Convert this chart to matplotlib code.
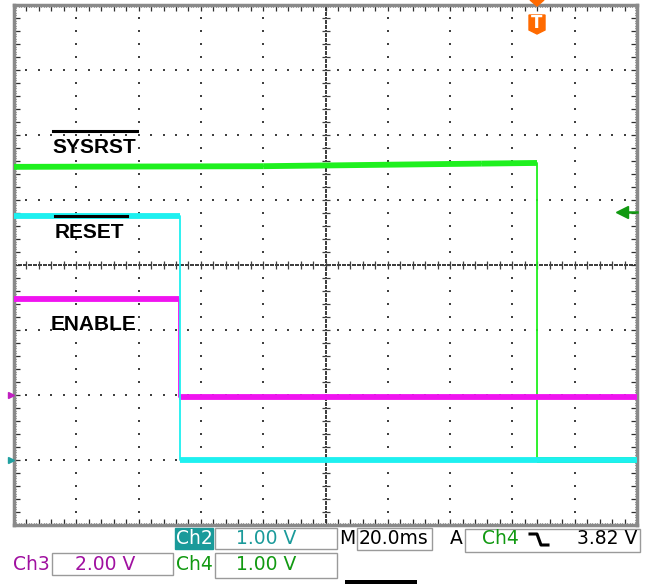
import numpy as np
import matplotlib.pyplot as plt
from matplotlib.patches import Rectangle, Polygon
from matplotlib.lines import Line2D

# scope screen: 10 div x 20 ms/div, 8 vertical divisions
tdiv = 20.0
ndiv_x = 10
ndiv_y = 8

# traces (time in ms from left edge of screen, value in volts)
t_sysrst = [0, 80, 150, 167.9, 167.9, 200]
v_sysrst = [4.51, 4.52, 4.56, 4.57, 0.0, 0.0]
t_reset = [0, 53.3, 53.3, 200]
v_reset = [3.75, 3.75, 0.0, 0.0]
t_enable = [0, 53.0, 53.0, 200]
v_enable = [2.95, 2.95, -0.05, -0.05]

# channel settings: volts/div and ground position (div from bottom)
ch_scale = {"Ch2": 1.0, "Ch3": 2.0, "Ch4": 1.0}
ch_ground = {"Ch2": 1.0, "Ch3": 2.0, "Ch4": 1.0}
trig_time = 167.9
trig_level = 3.82

green = "#1ef01e"
cyan = "#1ef0f0"
magenta = "#f014f0"

W, H = 654, 584


def fx(x):
	return x / W


def fy(y):
	return 1 - y / H


fig = plt.figure(figsize=(W / 100, H / 100), dpi=100)
ax = fig.add_axes([fx(14), fy(525), 623 / W, 520 / H])
ax.set_xlim(0, ndiv_x * tdiv)
ax.set_ylim(0, ndiv_y)

# graticule dots
dotc = "#404040"
for i in range(1, ndiv_x):
	xv = i * tdiv
	ys = np.arange(0.2, ndiv_y, 0.2)
	ax.scatter(np.full(len(ys), xv), ys, s=2.0, c=dotc, marker="s", lw=0, zorder=1)
for j in range(1, ndiv_y):
	xs = np.arange(4, ndiv_x * tdiv, 4)
	ax.scatter(xs, np.full(len(xs), j), s=2.0, c=dotc, marker="s", lw=0, zorder=1)

# centre cross with ticks
cx = ndiv_x * tdiv / 2
cy = ndiv_y / 2
xs = np.arange(0, ndiv_x * tdiv, 0.8)
ax.scatter(xs, np.full(len(xs), cy), s=1.2, c=dotc, marker="s", lw=0, zorder=1)
ys = np.arange(0, ndiv_y, 0.04)
ax.scatter(np.full(len(ys), cx), ys, s=1.2, c=dotc, marker="s", lw=0, zorder=1)
xs = np.arange(4, ndiv_x * tdiv, 4)
ax.scatter(xs, np.full(len(xs), cy), s=30, c=dotc, marker="|", lw=0.9, zorder=1)
ys = np.arange(0.2, ndiv_y, 0.2)
ax.scatter(np.full(len(ys), cx), ys, s=30, c=dotc, marker="_", lw=0.9, zorder=1)

# frame with ticks
for s in ax.spines.values():
	s.set_color("#8a8a8a")
	s.set_linewidth(2.5)
ax.set_xticks(np.arange(0, ndiv_x * tdiv + 0.1, 4))
ax.set_xticks(np.arange(0, ndiv_x * tdiv + 0.1, 0.8), minor=True)
ax.set_yticks(np.arange(0, ndiv_y + 0.01, 0.2))
ax.set_yticks(np.arange(0, ndiv_y + 0.01, 0.04), minor=True)
ax.tick_params(which="both", direction="in", top=True, right=True,
	labelbottom=False, labelleft=False, color="#303030")
ax.tick_params(which="major", length=4, width=0.9)
ax.tick_params(which="minor", length=1.5, width=0.6)


def draw_trace(t, v, ch, col):
	y = [ch_ground[ch] + val / ch_scale[ch] for val in v]
	ax.plot(t, y, color=col, lw=1.3, zorder=3)
	for k in range(len(t) - 1):
		if t[k + 1] != t[k]:
			ax.plot(t[k:k + 2], y[k:k + 2], color=col, lw=4.2, zorder=3,
				solid_capstyle="butt")


draw_trace(t_sysrst, v_sysrst, "Ch4", green)
draw_trace(t_enable, v_enable, "Ch3", magenta)
draw_trace(t_reset, v_reset, "Ch2", cyan)

# ground markers on the left
ax.plot([-1.0], [ch_ground["Ch3"]], marker=">", ms=5, color="#c020c0", clip_on=False, zorder=5)
ax.plot([-1.0], [ch_ground["Ch2"]], marker=">", ms=5, color="#20a0a0", clip_on=False, zorder=5)

# trigger level marker on the right
ty = ch_ground["Ch4"] + trig_level / ch_scale["Ch4"]
ax.plot([196.5, 200], [ty, ty], color="#119911", lw=1.8, clip_on=False, zorder=5)
ax.plot([195.2], [ty], marker="<", ms=9, color="#119911", clip_on=False, zorder=5)

# trigger position marker on top
tx = 14 + trig_time / (ndiv_x * tdiv) * 623
orange = "#ff6a00"
fig.patches.append(Polygon([(fx(tx - 7), fy(0)), (fx(tx + 7), fy(0)), (fx(tx), fy(6))],
	closed=True, transform=fig.transFigure, color=orange, zorder=6))
fig.patches.append(Polygon([(fx(tx - 8), fy(15)), (fx(tx + 8), fy(15)), (fx(tx + 8), fy(30)),
	(fx(tx), fy(34)), (fx(tx - 8), fy(30))],
	closed=True, transform=fig.transFigure, color=orange, zorder=6))
fig.text(fx(tx), fy(23.5), "T", color="white", fontsize=12, fontweight="bold",
	ha="center", va="center", zorder=7)

# signal names
lab_font = dict(family="Liberation Sans", fontsize=15, fontweight="bold", color="black")
fig.text(fx(52), fy(153), "SYSRST", ha="left", va="baseline", **lab_font)
fig.text(fx(55), fy(238), "RESET", ha="left", va="baseline", **lab_font)
fig.text(fx(51), fy(330), "ENABLE", ha="left", va="baseline", **lab_font)
fig.lines.append(Line2D([fx(53), fx(137)], [fy(131), fy(131)], transform=fig.transFigure,
	color="black", lw=2.2, zorder=8))
fig.lines.append(Line2D([fx(55), fx(127)], [fy(216), fy(216)], transform=fig.transFigure,
	color="black", lw=2.2, zorder=8))

# status bar
teal = "#1a9a9a"
st_font = dict(family="DejaVu Sans", fontsize=13.5)


def box(x0, y0, x1, y1, fc="white", ec="#9a9a9a"):
	fig.patches.append(Rectangle((fx(x0), fy(y1)), (x1 - x0) / W, (y1 - y0) / H,
		transform=fig.transFigure, facecolor=fc, edgecolor=ec, lw=1.0))


box(175, 528, 213, 549, fc=teal, ec=teal)
fig.text(fx(194), fy(539), "Ch2", color="white", ha="center", va="center", **st_font)
box(215, 528, 337, 549)
fig.text(fx(266), fy(539), "%.2f V" % ch_scale["Ch2"], color=teal, ha="center", va="center", **st_font)
fig.text(fx(347), fy(539), "M", color="black", ha="center", va="center", **st_font)
box(357, 528, 432, 550)
fig.text(fx(394), fy(539), "%.1fms" % tdiv, color="black", ha="center", va="center", **st_font)
fig.text(fx(456), fy(539), "A", color="black", ha="center", va="center", **st_font)
box(465, 529, 640, 552)
fig.text(fx(500), fy(539), "Ch4", color="#119911", ha="center", va="center", **st_font)
fig.lines.append(Line2D([fx(530), fx(537), fx(541), fx(548)], [fy(534), fy(534), fy(545), fy(545)],
	transform=fig.transFigure, color="black", lw=2.2))
fig.text(fx(637), fy(539), "%.2f V" % trig_level, color="black", ha="right", va="center", **st_font)

fig.text(fx(31), fy(564), "Ch3", color="#a010a0", ha="center", va="center", **st_font)
box(52, 553, 173, 575)
fig.text(fx(105), fy(564), "%.2f V" % ch_scale["Ch3"], color="#a010a0", ha="center", va="center", **st_font)
fig.text(fx(194), fy(564), "Ch4", color="#119911", ha="center", va="center", **st_font)
box(215, 553, 337, 578)
fig.text(fx(266), fy(564), "%.2f V" % ch_scale["Ch4"], color="#119911", ha="center", va="center", **st_font)

fig.patches.append(Rectangle((fx(345), 0), 72 / W, 4 / H, transform=fig.transFigure,
	facecolor="black", edgecolor="none"))

fig.savefig("out.png", dpi=100)
